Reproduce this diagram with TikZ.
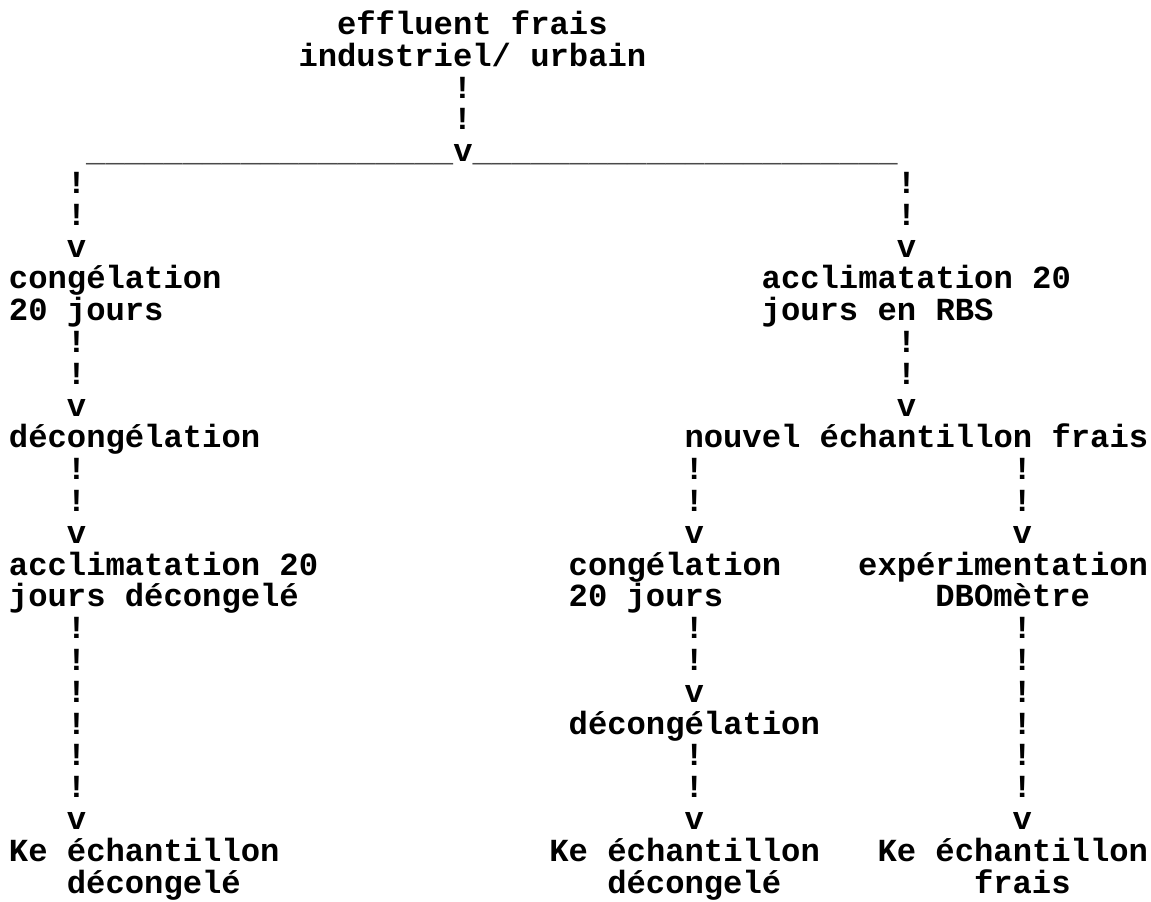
\documentclass[tikz,border=0pt]{standalone}
\usepackage{fontspec}
\newfontfamily\mono{Liberation Mono}
\definecolor{rule}{HTML}{4A4A4A}
\newcommand\tl[4]{\node[tt] (#1) at ({9+#2*19.3},{34.5+#3*31.8}) {#4};}
\begin{document}
\begin{tikzpicture}[x=0.5pt,y=-0.5pt,
  tt/.style={anchor=base west,inner sep=0pt,outer sep=0pt,
    font=\mono\bfseries\fontsize{16.1pt}{16.1pt}\selectfont,text=black}]
\useasboundingbox[fill=white] (0,0) rectangle (1151,901);
% top
\tl{eff1}{17}{0}{effluent frais}
\tl{eff2}{15}{1}{industriel/ urbain}
\tl{c0a}{23}{2}{!}
\tl{c0b}{23}{3}{!}
\tl{split}{4}{4}{\textcolor{rule}{\_\_\_\_\_\_\_\_\_\_\_\_\_\_\_\_\_\_\_}v\textcolor{rule}{\_\_\_\_\_\_\_\_\_\_\_\_\_\_\_\_\_\_\_\_\_\_}}
% first branch arrows
\tl{l1a}{3}{5}{!}\tl{l1b}{3}{6}{!}\tl{l1v}{3}{7}{v}
\tl{r1a}{46}{5}{!}\tl{r1b}{46}{6}{!}\tl{r1v}{46}{7}{v}
\tl{cong1a}{0}{8}{congélation}
\tl{cong1b}{0}{9}{20 jours}
\tl{accr1}{39}{8}{acclimatation 20}
\tl{accr2}{39}{9}{jours en RBS}
\tl{l2a}{3}{10}{!}\tl{l2b}{3}{11}{!}\tl{l2v}{3}{12}{v}
\tl{r2a}{46}{10}{!}\tl{r2b}{46}{11}{!}\tl{r2v}{46}{12}{v}
\tl{decong1}{0}{13}{décongélation}
\tl{nouvel}{35}{13}{nouvel échantillon frais}
\tl{l3a}{3}{14}{!}\tl{l3b}{3}{15}{!}\tl{l3v}{3}{16}{v}
\tl{m3a}{35}{14}{!}\tl{m3b}{35}{15}{!}\tl{m3v}{35}{16}{v}
\tl{r3a}{52}{14}{!}\tl{r3b}{52}{15}{!}\tl{r3v}{52}{16}{v}
\tl{accl1}{0}{17}{acclimatation 20}
\tl{accl2}{0}{18}{jours décongelé}
\tl{cong2a}{29}{17}{congélation}
\tl{cong2b}{29}{18}{20 jours}
\tl{exp1}{44}{17}{expérimentation}
\tl{exp2}{48}{18}{DBOmètre}
% long connectors
\tl{l4a}{3}{19}{!}\tl{l4b}{3}{20}{!}\tl{l4c}{3}{21}{!}\tl{l4d}{3}{22}{!}\tl{l4e}{3}{23}{!}\tl{l4f}{3}{24}{!}\tl{l4v}{3}{25}{v}
\tl{r4a}{52}{19}{!}\tl{r4b}{52}{20}{!}\tl{r4c}{52}{21}{!}\tl{r4d}{52}{22}{!}\tl{r4e}{52}{23}{!}\tl{r4f}{52}{24}{!}\tl{r4v}{52}{25}{v}
\tl{m4a}{35}{19}{!}\tl{m4b}{35}{20}{!}\tl{m4v}{35}{21}{v}
\tl{decong2}{29}{22}{décongélation}
\tl{m5a}{35}{23}{!}\tl{m5b}{35}{24}{!}\tl{m5v}{35}{25}{v}
% results
\tl{ke1a}{0}{26}{Ke échantillon}
\tl{ke1b}{3}{27}{décongelé}
\tl{ke2a}{28}{26}{Ke échantillon}
\tl{ke2b}{31}{27}{décongelé}
\tl{ke3a}{45}{26}{Ke échantillon}
\tl{ke3b}{50}{27}{frais}
\end{tikzpicture}
\end{document}
